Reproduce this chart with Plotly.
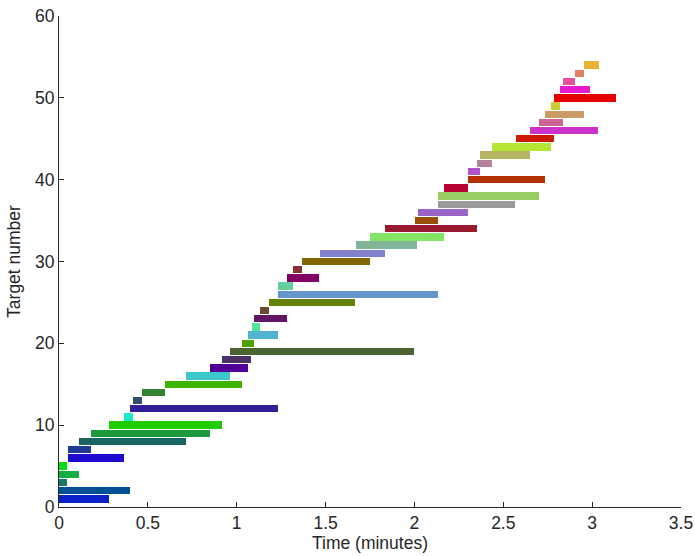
import plotly.graph_objects as go

targets = list(range(1, 55))
start_min = [0.0, 0.0, 0.0, 0.0, 0.0, 0.05, 0.05, 0.115, 0.18, 0.28,
             0.366, 0.40, 0.414, 0.465, 0.598, 0.716, 0.85, 0.915, 0.964, 1.032,
             1.066, 1.084, 1.099, 1.133, 1.183, 1.234, 1.234, 1.283, 1.317, 1.367,
             1.466, 1.669, 1.752, 1.835, 2.001, 2.018, 2.135, 2.135, 2.168, 2.301,
             2.301, 2.352, 2.369, 2.437, 2.57, 2.652, 2.703, 2.737, 2.769, 2.786,
             2.82, 2.837, 2.903, 2.952]
end_min = [0.28, 0.40, 0.047, 0.114, 0.047, 0.364, 0.18, 0.716, 0.85, 0.915,
           0.414, 1.234, 0.465, 0.598, 1.032, 0.964, 1.066, 1.083, 2.0, 1.099,
           1.233, 1.131, 1.283, 1.182, 1.667, 2.134, 1.317, 1.465, 1.366, 1.751,
           1.834, 2.016, 2.166, 2.352, 2.133, 2.301, 2.568, 2.701, 2.301, 2.735,
           2.368, 2.435, 2.652, 2.769, 2.786, 3.035, 2.834, 2.953, 2.818, 3.135,
           2.986, 2.902, 2.952, 3.037]
colors = ["#0a20c8", "#005096", "#1a7a6a", "#10b040", "#00e010", "#1e0ad0", "#1e3c96", "#1a6464",
          "#1e9a3c", "#1ecc00", "#1ee8c8", "#321e96", "#324e6a", "#328232", "#3cb400", "#3cc8c8",
          "#500096", "#4b3264", "#4b6432", "#50a000", "#50b4d0", "#50e696", "#641464", "#644b32",
          "#648200", "#6496cc", "#64d0a0", "#820064", "#823232", "#826400", "#8282cc", "#82b49a",
          "#82e664", "#9a1a32", "#9a5000", "#9a64c8", "#9a9a9a", "#9acc64", "#b40032", "#b43200",
          "#b450c8", "#b4809a", "#b4b464", "#b4e632", "#cc1a00", "#cc32cc", "#cc6496", "#cc9a64",
          "#cccc32", "#e60000", "#e61acc", "#e6509a", "#e68064", "#e6b432"]

durations = [e - s for s, e in zip(start_min, end_min)]

fig = go.Figure(go.Bar(
    y=targets, x=durations, base=start_min, orientation="h",
    width=0.9, marker=dict(color=colors, line=dict(width=0)),
    showlegend=False, hoverinfo="skip",
))

axis_col = "#262626"
font = dict(family="Liberation Sans, Arial, sans-serif", size=17.5, color=axis_col)
fig.update_layout(
    width=695, height=556,
    margin=dict(l=59, r=14, t=16, b=49, autoexpand=False),
    plot_bgcolor="white", paper_bgcolor="white",
    font=font, bargap=0,
    xaxis=dict(range=[0, 3.5], tickvals=[0, 0.5, 1, 1.5, 2, 2.5, 3, 3.5],
               ticktext=["0", "0.5", "1", "1.5", "2", "2.5", "3", "3.5"],
               showgrid=False, zeroline=False, showline=True, linecolor=axis_col, linewidth=1,
               ticks="inside", ticklen=5, tickcolor=axis_col, tickfont=font, automargin=False,
               title=dict(text="Time (minutes)", font=font, standoff=4)),
    yaxis=dict(range=[0, 60], tickvals=[0, 10, 20, 30, 40, 50, 60],
               showgrid=False, zeroline=False, showline=True, linecolor=axis_col, linewidth=1,
               ticks="inside", ticklen=5, tickcolor=axis_col, tickfont=font, automargin=False,
               title=dict(text="Target number", font=font, standoff=9)),
)

fig.write_html("out.html")
